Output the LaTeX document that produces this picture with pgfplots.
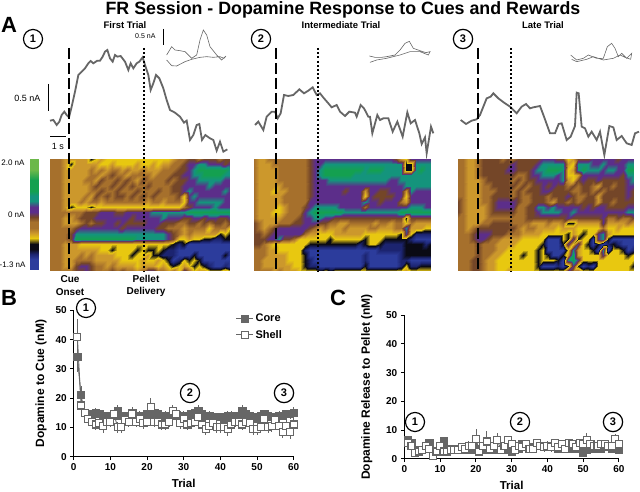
\documentclass[border=0pt]{standalone}
\usepackage{fontspec}
\setmainfont{Liberation Sans}
\usepackage{pgfplots}
\usepackage{pgfplotstable}
\pgfplotsset{compat=1.18}
\definecolor{tr}{HTML}{666666}
\tikzset{num/.style={circle,draw,line width=1.2pt,minimum size=14.5pt,font=\bfseries\fontsize{11}{12}\selectfont}}
\pgfplotstableset{col sep=space,header=false}
\pgfplotstableread{
5 5 5 4 4 4 4 4 2 3 4 3 3 3 3 3 3 3 3 3 3 3 3 3 4 5 5 6 6 5 6 6 6 5 6 6
5 5 5 4 2 4 4 4 4 4 3 3 4 3 3 3 3 4 3 3 4 3 4 4 5 5 6 7 7 8 8 7 7 7 6 7
5 5 5 4 4 4 4 4 5 4 5 4 5 5 4 5 4 4 5 4 4 4 5 5 5 6 6 7 8 9 9 9 9 9 9 8
5 5 5 4 4 4 4 4 5 5 4 5 6 5 5 4 5 5 5 5 4 5 5 5 6 6 7 7 8 8 9 9 9 9 8 8
5 5 5 4 4 4 4 5 5 4 6 5 5 6 5 6 5 4 6 5 5 5 5 6 5 6 6 7 7 8 8 8 8 8 7 7
5 5 5 4 4 4 4 4 5 6 5 5 6 5 6 5 6 5 5 6 5 5 5 5 6 6 7 7 7 7 7 8 7 7 7 7
5 5 5 4 4 4 4 4 5 5 6 5 5 6 5 5 5 6 5 5 5 6 5 5 6 6 7 8 7 7 7 7 7 7 8 7
5 5 5 4 4 4 4 5 4 6 5 6 5 6 6 5 6 5 6 5 6 5 5 5 5 6 3 7 8 7 7 7 7 7 7 7
5 5 5 4 4 4 5 4 5 5 4 5 5 5 5 5 5 5 5 4 5 5 4 5 5 5 3 7 7 8 8 8 8 8 7 7
5 5 5 4 2 3 3 3 2 3 3 3 3 3 3 3 3 3 3 3 3 3 3 3 3 3 5 6 7 7 7 7 8 7 7 7
5 5 5 5 5 5 5 6 6 6 7 7 7 6 6 7 7 7 7 7 8 8 8 8 8 8 8 9 9 9 9 9 9 9 9 9
5 5 5 4 4 5 6 6 6 7 7 7 7 7 7 7 6 7 7 7 7 7 8 7 7 7 6 6 7 7 6 7 7 6 6 7
5 5 5 4 4 4 5 6 5 6 6 7 7 6 7 6 6 6 6 7 7 7 6 6 6 5 5 6 6 5 6 5 6 6 5 6
5 5 5 5 5 6 7 7 7 7 7 7 7 7 6 7 7 7 7 7 7 6 6 5 5 5 4 5 5 5 5 3 5 5 5 3
5 5 5 5 6 8 8 8 8 8 8 8 8 8 8 8 8 8 8 8 8 8 8 7 6 5 4 5 4 4 4 4 4 2 3 2
5 5 5 5 6 9 9 9 9 9 9 9 9 9 9 9 9 8 8 8 8 8 8 7 6 3 3 4 3 3 2 2 1 1 2 2
5 5 5 4 4 4 3 3 3 3 3 3 3 3 3 3 3 3 3 3 3 3 3 3 2 1 2 0 0 0 0 0 0 0 0 0
5 5 5 4 4 4 4 4 4 4 3 3 2 3 3 3 3 2 3 2 2 3 2 1 1 0 0 0 0 0 0 0 0 0 0 0
5 5 5 4 4 4 5 4 5 4 4 4 4 3 3 3 2 3 3 4 2 2 1 1 1 0 0 0 2 0 0 0 0 0 2 0
5 5 5 4 4 5 5 5 5 4 4 4 4 4 3 3 3 3 4 3 3 4 3 2 0 1 3 2 3 2 0 0 0 0 0 0
5 5 5 4 4 6 7 7 6 5 5 4 5 4 4 4 4 3 4 4 4 3 4 3 2 3 4 3 2 3 2 1 0 0 1 0
5 5 5 5 5 6 6 7 6 5 5 5 6 5 6 5 5 4 5 7 7 5 5 4 5 3 7 5 3 4 4 3 3 3 4 3
}\heatA
\pgfplotstableread{
5 4 4 5 5 5 5 5 5 5 5 6 7 7 7 7 7 7 7 7 7 7 7 7 7 7 7 7 6 4 3 7 7 7 7 7
5 4 4 4 5 5 5 5 5 5 5 6 7 7 8 8 8 8 8 8 8 8 8 8 8 8 8 8 8 8 2 2 8 8 8 8
5 4 4 4 4 5 5 5 5 5 5 6 7 8 9 9 9 9 9 9 9 9 8 9 9 9 8 8 8 8 2 2 8 9 8 8
5 4 4 4 4 5 5 5 5 5 5 6 7 8 9 9 9 9 9 9 8 8 8 8 8 8 8 8 8 8 8 8 8 8 8 8
5 4 4 4 4 5 5 5 5 5 5 6 7 7 7 8 8 8 8 8 8 8 8 8 8 8 8 7 7 8 8 8 8 8 8 8
5 4 4 4 4 4 5 5 5 5 5 6 7 7 7 7 7 7 7 7 7 7 7 7 7 7 7 7 7 7 8 8 8 8 8 8
5 4 4 4 3 4 4 5 5 5 5 6 7 7 7 7 7 7 6 7 7 7 4 7 7 6 6 7 7 7 4 8 7 7 7 7
5 4 4 4 4 4 5 5 5 5 5 6 7 7 7 7 7 7 7 7 7 7 3 7 6 6 6 6 7 7 3 7 7 7 7 7
5 4 4 4 4 4 5 5 5 5 5 7 7 7 7 7 7 7 7 7 7 7 8 7 7 6 7 7 7 5 4 7 7 7 7 7
5 4 4 4 4 3 4 5 5 5 6 7 8 8 8 8 8 7 7 7 7 7 5 7 7 7 7 7 7 7 7 8 8 8 7 7
5 4 4 4 3 3 4 5 5 5 7 8 9 9 9 9 9 9 8 8 8 8 8 8 8 8 8 8 8 9 9 9 9 9 9 9
5 4 4 4 4 4 5 5 5 6 7 7 8 8 7 7 6 6 6 6 6 6 6 6 6 6 6 6 6 6 2 6 6 6 6 6
6 5 4 4 4 5 5 5 6 6 7 7 7 6 6 5 5 4 4 5 5 5 5 5 4 5 5 4 5 5 3 5 4 4 4 4
6 5 4 5 6 7 7 7 7 7 7 6 5 4 5 4 4 4 5 4 4 4 4 5 5 4 4 4 5 5 8 4 4 4 3 3
6 6 5 6 7 7 7 7 7 7 5 4 4 3 3 3 4 4 4 4 4 4 3 3 3 3 3 3 3 2 7 3 1 1 1 1
6 6 6 7 7 8 6 6 5 3 3 3 3 3 3 2 3 3 3 3 3 3 2 3 3 3 2 2 2 2 2 1 0 0 0 0
6 6 5 4 3 3 3 3 3 3 3 2 2 2 2 2 2 2 2 2 2 1 2 3 3 2 1 1 1 1 2 2 2 2 1 2
5 5 5 4 4 3 3 3 3 3 1 0 0 0 0 0 0 0 0 0 0 0 0 0 0 1 1 1 1 1 2 2 2 2 2 2
5 5 5 4 4 4 4 3 3 3 2 0 0 0 0 0 0 0 0 0 0 0 1 0 0 0 0 0 0 1 2 2 2 2 2 2
5 5 4 4 4 4 4 3 3 3 2 1 0 0 0 0 0 0 0 0 0 0 1 0 0 0 0 0 0 1 1 0 0 0 0 0
5 5 4 4 4 4 4 4 3 3 2 1 1 0 0 0 0 0 0 0 0 0 2 0 0 0 0 0 0 1 3 1 1 2 2 2
5 5 5 5 4 5 4 4 4 3 3 3 3 2 3 2 3 3 3 3 3 3 3 3 3 3 3 3 3 3 4 3 3 3 3 3
}\heatB
\pgfplotstableread{
5 5 4 4 5 6 6 6 6 5 6 5 6 6 6 6 6 7 7 7 6 6 3 4 6 6 6 7 7 7 7 7 6 7 7 7
5 5 4 4 5 6 6 6 6 6 6 7 6 6 6 6 7 8 8 8 8 8 4 3 8 8 8 7 7 8 7 7 7 7 8 8
5 5 4 4 5 6 6 6 6 6 7 7 6 6 6 7 8 8 9 9 9 8 3 4 8 9 8 8 8 7 8 8 7 7 9 9
5 5 4 4 5 6 6 6 6 6 6 6 5 5 6 7 7 8 8 8 7 8 3 3 4 7 7 7 7 7 7 7 7 6 8 8
5 5 4 4 4 5 6 6 6 6 6 5 6 5 6 6 7 7 7 7 7 8 4 3 6 7 6 6 7 6 6 6 6 6 7 8
5 5 4 4 4 5 5 6 6 6 6 6 5 6 5 6 6 7 6 7 6 6 5 6 5 6 6 5 4 6 6 5 6 6 7 7
5 5 4 4 4 5 5 5 6 6 6 5 6 5 6 6 6 7 7 6 6 6 6 5 5 6 6 5 6 5 6 6 6 6 7 6
5 5 4 4 4 5 5 6 6 6 6 5 6 5 5 6 6 6 5 6 6 6 7 6 5 5 6 6 4 6 6 6 6 6 7 6
6 5 4 4 4 5 5 6 7 7 7 7 6 5 5 6 6 6 5 4 6 6 5 6 5 6 6 6 4 6 6 5 6 6 6 6
6 5 4 4 4 4 5 6 7 7 7 7 5 5 6 6 8 8 7 8 7 7 7 7 7 6 7 6 7 7 6 6 6 6 7 7
6 5 4 4 4 4 5 6 6 6 6 6 5 5 6 6 7 8 8 8 8 7 7 8 7 7 7 7 7 7 7 7 7 7 8 8
5 5 4 4 4 4 5 5 5 5 5 5 5 5 6 6 6 6 6 6 6 6 7 6 6 6 6 6 6 7 5 5 6 5 5 6
5 5 4 4 4 5 5 6 6 6 6 5 5 5 5 4 4 4 5 4 4 5 2 2 4 4 4 4 4 7 4 4 4 4 5 4
5 5 4 5 6 6 6 6 6 6 6 6 5 4 5 5 4 4 4 4 3 4 4 4 3 3 3 3 3 5 3 3 4 3 3 3
5 5 5 6 7 7 7 6 6 6 5 5 5 4 4 4 4 3 3 3 3 3 2 4 3 2 3 3 7 8 4 3 3 3 3 3
5 5 5 6 7 7 6 5 5 4 4 4 4 3 3 3 3 3 0 0 0 3 2 7 2 3 3 0 7 8 2 0 0 0 0 0
5 5 5 5 6 5 5 5 4 4 4 4 3 3 3 3 3 2 0 0 0 2 7 3 7 3 2 0 2 0 1 2 1 0 0 0
5 5 5 5 6 5 5 5 4 4 3 3 3 3 3 3 2 3 0 0 0 0 3 8 4 3 3 2 0 8 0 3 3 2 0 1
5 5 5 5 6 5 5 4 4 3 3 3 3 2 3 3 2 3 2 0 0 2 4 9 4 3 3 3 3 7 3 3 3 3 2 3
5 5 5 6 6 5 4 4 3 3 3 3 3 3 3 3 2 3 3 3 2 0 8 9 7 3 3 3 3 3 3 3 3 3 3 3
5 5 5 6 6 5 4 4 3 3 3 3 3 3 3 3 2 0 0 0 1 0 2 7 2 0 1 0 3 3 3 3 3 3 3 2
5 5 5 6 6 5 4 4 3 3 4 3 3 3 3 3 3 3 3 3 3 3 7 5 5 3 3 3 3 3 3 3 3 3 3 3
}\heatC
% builds the coordinate list of a heat map from its table
\newcommand\buildheat[2]{%
  \gdef\heatlist{}%
  \pgfplotstablegetrowsof{#1}\let\nr\pgfplotsretval
  \pgfplotstablegetcolsof{#1}\let\nc\pgfplotsretval
  \pgfmathtruncatemacro\nrl{\nr-1}\pgfmathtruncatemacro\ncl{\nc-1}%
  \foreach \r in {0,...,\nrl}{\foreach \c in {0,...,\ncl}{%
    \edef\tmp{\noexpand\pgfplotstablegetelem{\r}{\c}\noexpand\of\noexpand#1}\tmp
    \xdef\heatlist{\heatlist (\c,\r) [\pgfplotsretval]}}}%
  \global\let#2\heatlist}
\buildheat{\heatA}{\listA}
\buildheat{\heatB}{\listB}
\buildheat{\heatC}{\listC}
\pgfplotsset{
  colormap={hm}{
    rgb255=(44,60,156) rgb255=(28,36,112) rgb255=(10,10,20)
    rgb255=(232,200,16) rgb255=(204,152,44) rgb255=(166,112,44)
    rgb255=(116,70,40) rgb255=(92,46,138) rgb255=(20,148,124)
    rgb255=(20,160,80) rgb255=(108,184,74)},
  heatmap/.style={scale only axis,hide axis,y dir=reverse,enlargelimits=false,
    xmin=0,xmax=35,ymin=0,ymax=21,colormap name=hm,
    point meta min=0,point meta max=10},
  heatplot/.style={surf,shader=interp,mesh/cols=36,mesh/rows=22,point meta=explicit},
  result/.style={scale only axis,anchor=south west,width=#1,height=145pt,
    axis lines*=left,axis line style={line width=1.1pt},
    xmin=0,xmax=60,ymin=0,ymax=50,clip=false,
    xtick={0,10,...,60},ytick={0,10,...,50},
    tick align=outside,tick style={black,line width=1pt},major tick length=3.5pt,
    tick label style={font=\bfseries\fontsize{10}{11}\selectfont},
    /pgf/number format/assume math mode=true,
    ylabel style={font=\bfseries\fontsize{12}{13}\selectfont},
    xlabel style={font=\bfseries\fontsize{11.5}{12}\selectfont,yshift=-1pt},
    xlabel={Trial},
    error bars/error bar style={tr,line width=.7pt},error bars/error mark=none},
  core/.style={tr,line width=.9pt,mark=square*,mark size=3.6pt,mark options={fill=tr,draw=tr},
    error bars/.cd,y dir=both,y explicit},
  shell/.style={tr,line width=.9pt,mark=square*,mark size=3.5pt,mark options={fill=white,draw=tr,line width=1.1pt},
    error bars/.cd,y dir=both,y explicit},
  ann/.style={scale only axis,hide axis,anchor=south west,width=640pt,height=492pt,clip=false}
}
\newcommand\heatmapat[3]{%
  \begin{axis}[heatmap,at={(#1pt,221pt)},anchor=south west,width=#2pt,height=112pt]
  \edef\doit{\noexpand\addplot[heatplot] coordinates {#3};}\doit
  \end{axis}}
\begin{document}
\begin{tikzpicture}
\useasboundingbox (0pt,0pt) rectangle (640pt,492pt);
\heatmapat{50}{180}{\listA}
\heatmapat{254}{177}{\listB}
\heatmapat{458}{175}{\listC}
% colour scale
\begin{axis}[scale only axis,hide axis,y dir=reverse,enlargelimits=false,at={(30pt,222pt)},anchor=south west,
  width=8.5pt,height=111pt,xmin=0,xmax=1,ymin=0,ymax=21,colormap name=hm,
  point meta min=0,point meta max=10]
\addplot[surf,shader=interp,mesh/cols=2,mesh/rows=22,point meta=explicit] coordinates {
 (0,0)[10] (1,0)[10] (0,1)[10] (1,1)[10] (0,2)[10] (1,2)[10] (0,3)[9.5] (1,3)[9.5] (0,4)[9] (1,4)[9] (0,5)[9] (1,5)[9] (0,6)[9] (1,6)[9] (0,7)[8] (1,7)[8] (0,8)[8] (1,8)[8] (0,9)[7] (1,9)[7] (0,10)[7] (1,10)[7]
 (0,11)[6] (1,11)[6] (0,12)[5] (1,12)[5] (0,13)[5] (1,13)[5] (0,14)[4] (1,14)[4] (0,15)[3] (1,15)[3] (0,16)[2] (1,16)[2] (0,17)[2] (1,17)[2] (0,18)[1] (1,18)[1] (0,19)[0] (1,19)[0] (0,20)[0] (1,20)[0] (0,21)[0] (1,21)[0]};
\end{axis}
% traces, in units of a third of a pixel
\begin{axis}[ann,at={(0pt,0pt)},xmin=0,xmax=1920,ymin=0,ymax=1476,y dir=reverse]
\addplot[tr,line width=1.8pt] coordinates {(150,362)(160,360)(170,375)(178,365)(185,345)(193,335)(200,345)(207,352)(215,320)(225,275)(235,225)(245,215)(255,205)(265,190)(272,183)(280,190)(292,182)(300,182)(308,170)(315,155)(322,150)(330,175)(338,185)(345,165)(352,170)(362,168)(375,185)(385,210)(392,190)(400,205)(410,190)(418,185)(428,172)(435,195)(445,225)(452,270)(460,250)(468,225)(478,235)(490,265)(500,300)(510,330)(525,338)(540,350)(552,368)(560,362)(570,420)(580,405)(590,375)(598,372)(606,420)(616,405)(630,415)(640,420)(650,452)(660,425)(670,455)(682,448)};
\addplot[tr,line width=1.8pt] coordinates {(765,375)(775,365)(790,390)(800,350)(815,335)(825,335)(833,355)(842,340)(852,285)(865,288)(880,285)(898,268)(912,280)(925,272)(938,262)(950,285)(960,280)(972,295)(985,310)(995,322)(1010,315)(1020,335)(1035,348)(1048,335)(1065,338)(1070,350)(1082,315)(1092,325)(1105,350)(1110,350)(1117,400)(1132,345)(1140,360)(1150,355)(1165,355)(1178,395)(1192,365)(1208,410)(1222,337)(1232,370)(1245,360)(1258,400)(1265,432)(1275,412)(1280,460)(1293,380)(1300,400)};
\addplot[tr,line width=1.8pt] coordinates {(1382,360)(1398,372)(1415,362)(1430,358)(1440,345)(1450,320)(1460,295)(1472,290)(1480,280)(1495,295)(1515,310)(1530,320)(1550,340)(1565,320)(1578,312)(1590,325)(1600,322)(1620,318)(1632,350)(1650,400)(1665,400)(1676,372)(1685,370)(1700,420)(1712,410)(1725,378)(1730,278)(1736,280)(1745,380)(1755,385)(1765,410)(1775,395)(1790,420)(1800,395)(1813,465)(1828,378)(1840,382)(1850,420)(1865,408)(1880,430)(1895,435)(1905,400)(1917,395)};
\addplot[tr,line width=.6pt] coordinates {(500,165)(515,140)(525,150)(540,152)(555,155)(575,175)(590,165)(600,120)(610,90)(620,105)(630,140)(650,165)(665,180)(678,168)(672,175)(660,170)(640,172)(620,170)(600,172)(575,178)(555,185)(530,198)(515,197)(500,180)};
\addplot[tr,line width=.6pt] coordinates {(1108,168)(1125,172)(1145,172)(1160,170)(1185,165)(1200,150)(1215,130)(1228,124)(1240,145)(1260,152)(1278,158)(1290,155)(1285,165)(1260,155)(1230,155)(1200,165)(1160,175)(1130,180)(1110,187)};
\addplot[tr,line width=.6pt] coordinates {(1712,165)(1730,180)(1750,175)(1765,165)(1790,175)(1810,175)(1822,140)(1835,130)(1845,145)(1855,170)(1865,160)(1880,175)(1895,160)(1892,178)(1875,172)(1860,165)(1840,175)(1810,180)(1780,170)(1760,178)(1730,185)(1715,178)};
\end{axis}
% markers and texts, in pixels
\begin{axis}[ann,at={(0pt,0pt)},xmin=0,xmax=640,ymin=0,ymax=492,y dir=reverse,
  every node/.append style={inner sep=0pt,outer sep=0pt}]
\addplot[black,line width=1.8pt,dash pattern=on 11pt off 4pt] coordinates {(69,48)(69,271)};
\addplot[black,line width=1.8pt,dash pattern=on 11pt off 4pt] coordinates {(276,48)(276,271)};
\addplot[black,line width=1.8pt,dash pattern=on 11pt off 4pt] coordinates {(478,48)(478,271)};
\addplot[black,line width=1.6pt,dash pattern=on 2pt off 2.2pt] coordinates {(144,48)(144,271)};
\addplot[black,line width=1.6pt,dash pattern=on 2pt off 2.2pt] coordinates {(318,48)(318,271)};
\addplot[black,line width=1.6pt,dash pattern=on 2pt off 2.2pt] coordinates {(511,48)(511,271)};
\addplot[black,line width=1pt] coordinates {(48,84)(48,111)};
\addplot[black,line width=1pt] coordinates {(50,137)(66,137)};
\addplot[black,line width=1pt] coordinates {(163,29)(163,45)};
\node at (axis cs:343,9.5) {\bfseries\fontsize{17.8}{19}\selectfont FR Session - Dopamine Response to Cues and Rewards};
\node at (axis cs:125,25) {\bfseries\fontsize{9.5}{10}\selectfont First Trial};
\node at (axis cs:341,25) {\bfseries\fontsize{9.5}{10}\selectfont Intermediate Trial};
\node at (axis cs:543,25) {\bfseries\fontsize{9.5}{10}\selectfont Late Trial};
\node at (axis cs:9,25) {\bfseries\fontsize{22}{22}\selectfont A};
\node at (axis cs:9,298) {\bfseries\fontsize{22}{22}\selectfont B};
\node at (axis cs:338,298) {\bfseries\fontsize{22}{22}\selectfont C};
\node[num] at (axis cs:33,39) {1};
\node[num] at (axis cs:261,39) {2};
\node[num] at (axis cs:463,39) {3};
\node[num] at (axis cs:86,308) {1};
\node[num] at (axis cs:190,393) {2};
\node[num] at (axis cs:284,393) {3};
\node[num] at (axis cs:415,422) {1};
\node[num] at (axis cs:520,422) {2};
\node[num] at (axis cs:613,422) {3};
\node[anchor=east] at (axis cs:44,98) {\fontsize{9}{10}\selectfont 0.5 nA};
\node at (axis cs:58,146) {\fontsize{9}{10}\selectfont 1 s};
\node[anchor=east] at (axis cs:159,36) {\fontsize{7}{8}\selectfont 0.5 nA};
\node[anchor=east] at (axis cs:28,163) {\fontsize{8}{9}\selectfont 2.0 nA};
\node[anchor=east] at (axis cs:28,215) {\fontsize{8}{9}\selectfont 0 nA};
\node[anchor=east] at (axis cs:29,265) {\fontsize{8}{9}\selectfont -1.3 nA};
\node at (axis cs:70,279) {\bfseries\fontsize{10}{11}\selectfont Cue};
\node at (axis cs:70,292) {\bfseries\fontsize{10}{11}\selectfont Onset};
\node at (axis cs:146,279) {\bfseries\fontsize{10}{11}\selectfont Pellet};
\node at (axis cs:146,292) {\bfseries\fontsize{10}{11}\selectfont Delivery};
\end{axis}
% panel B
\begin{axis}[result=220pt,at={(73.7pt,35.3pt)},height=146.4pt,ylabel={Dopamine to Cue (nM)},ylabel style={yshift=2pt},
  legend style={draw=none,fill=none,at={(0.735,0.99)},anchor=north west,font=\bfseries\fontsize{11}{12}\selectfont,row sep=3pt,inner sep=0pt},
  legend cell align=left]
\addplot[core] table[row sep=\\,x index=0,y index=1,y error index=2] {1 34 5\\2 21 3\\3 15 2\\4 14 1.5\\5 14.5 1.5\\6 15 1.5\\7 14.5 1.5\\8 14 1.5\\9 13.5 1.5\\10 14 1.5\\11 14 1.5\\12 15.5 2\\13 14 1.5\\14 13.5 1.5\\15 14 1.5\\16 15 2\\17 14 1.5\\18 14 1.5\\19 13.5 1.5\\20 14.5 1.5\\21 14.5 1.5\\22 15 1.5\\23 14.5 1.5\\24 13.5 1.5\\25 14 1.5\\26 14 1.5\\27 15 1.5\\28 14 1.5\\29 14 1.5\\30 14 1.5\\31 14 1.5\\32 14.5 1.5\\33 15 1.5\\34 15.5 2\\35 14.5 1.5\\36 14 1.5\\37 14 1.5\\38 13.5 1.5\\39 13.5 1.5\\40 13.5 1.5\\41 13 1.5\\42 14 1.5\\43 14 1.5\\44 13.5 1.5\\45 14 1.5\\46 15.5 2\\47 14.5 1.5\\48 14 1.5\\49 13.5 1.5\\50 13 1.5\\51 14 1.5\\52 14.5 1.5\\53 14 1.5\\54 13.5 1.5\\55 13 1.5\\56 14 1.5\\57 14 1.5\\58 14.5 1.5\\59 14.5 1.5\\60 15 2\\};
\addlegendentry{Core}
\addplot[shell] table[row sep=\\,x index=0,y index=1,y error index=2] {1 41 6\\2 17.5 2.5\\3 15 2\\4 13 2\\5 12 2\\6 11 2\\7 11.5 2\\8 10.5 2.5\\9 12 2\\10 12 2\\11 14.5 2\\12 10 2\\13 10 2\\14 12.5 2\\15 12 2\\16 14.5 2\\17 12 2\\18 13 2\\19 11.5 2\\20 12 2\\21 17 3\\22 12 2\\23 12 2\\24 11 2\\25 11 2\\26 12 2\\27 15.5 2\\28 14.5 2\\29 11.5 2\\30 13 2\\31 11 2\\32 11.5 2\\33 12 2\\34 13.5 2\\35 11 2\\36 9.5 2\\37 10.5 2\\38 11.5 2\\39 10 2\\40 10 2\\41 10 2\\42 9.5 2.5\\43 11 2\\44 12 2\\45 12 2\\46 11 2\\47 12 2\\48 11.5 2\\49 9.5 2\\50 9.5 2\\51 10 2\\52 13 2\\53 10 2\\54 10.5 2\\55 12.5 2\\56 10.5 2\\57 8.5 2\\58 10.5 2.5\\59 8.5 2.5\\60 11 2.5\\};
\addlegendentry{Shell}
\end{axis}
% panel C
\begin{axis}[result=214.7pt,at={(404.3pt,33.3pt)},height=143.4pt,ylabel={Dopamine Release to Pellet (nM)},ylabel style={yshift=7pt}]
\addplot[core] table[row sep=\\,x index=0,y index=1,y error index=2] {1 6.5 1\\2 5.5 1\\3 3 1\\4 2.5 1\\5 3 1\\6 4 1\\7 5.5 1\\8 1 1\\9 2.5 1\\10 3 1\\11 6 1\\12 3 1\\13 3.5 1\\14 3 1\\15 3.5 1\\16 3 1\\17 3 1\\18 3 1\\19 3 1\\20 3.5 1\\21 3 1\\22 3.5 1\\23 3 1\\24 3.5 1\\25 3 1\\26 3 1\\27 3 1\\28 3 1\\29 3.5 1\\30 2.5 1\\31 3 1\\32 3.5 1\\33 5 1\\34 4 1\\35 3.5 1\\36 4 1\\37 5 1\\38 4.5 1\\39 4.5 1\\40 4 1\\41 4 1\\42 4 1\\43 3.5 1\\44 4 1\\45 3.5 1\\46 3.5 1\\47 4.5 1\\48 3.5 1\\49 4 1\\50 2 1\\51 3 1\\52 5 1\\53 3.5 1\\54 4.5 1\\55 3.5 1\\56 4.5 1\\57 4 1\\58 3.5 1\\59 3.5 1\\60 3 1\\};
\addplot[shell] table[row sep=\\,x index=0,y index=1,y error index=2] {1 5.5 1.5\\2 4.5 1.5\\3 2 1.5\\4 2.5 1.5\\5 3 1.5\\6 4.5 1.5\\7 3.5 1.5\\8 1 1.5\\9 2.5 1.5\\10 4.5 1.5\\11 2.5 1.5\\12 2.5 1.5\\13 3 1.5\\14 3 1.5\\15 3 1.5\\16 4 1.5\\17 3.5 1.5\\18 4.5 1.5\\19 4.5 1.5\\20 7 3.5\\21 2.5 1.5\\22 4.5 1.5\\23 6 3.5\\24 3.5 1.5\\25 4.5 1.5\\26 6.5 2.5\\27 3 1.5\\28 4.5 1.5\\29 6.5 1.5\\30 5 1.5\\31 3 1.5\\32 4.5 1.5\\33 4 1.5\\34 5 1.5\\35 3.5 1.5\\36 3.5 1.5\\37 5.5 1.5\\38 4.5 1.5\\39 4 1.5\\40 4.5 1.5\\41 4 1.5\\42 5.5 1.5\\43 4 1.5\\44 5 1.5\\45 3.5 1.5\\46 5.5 1.5\\47 5 1.5\\48 4 1.5\\49 5.5 1.5\\50 5 1.5\\51 6.5 2.5\\52 5 1.5\\53 4.5 1.5\\54 4.5 1.5\\55 5 1.5\\56 5 1.5\\57 4.5 1.5\\58 4.5 1.5\\59 7 1.5\\60 5 1.5\\};
\end{axis}
\end{tikzpicture}
\end{document}
